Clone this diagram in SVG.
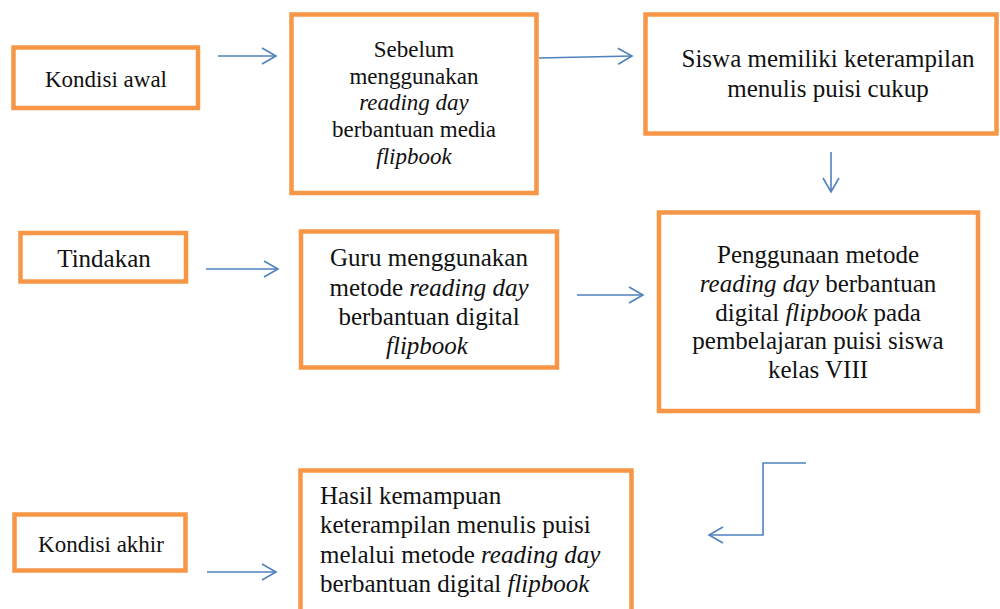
<svg xmlns="http://www.w3.org/2000/svg" width="1000" height="609" viewBox="0 0 1000 609">
<style>
.box{fill:#ffffff;stroke:#F79646;stroke-width:4.5}
.t{font-family:'Liberation Serif','Tinos','DejaVu Serif','Noto Serif',serif;fill:#111111}
.c{text-anchor:middle}
.i{font-style:italic}
.con{fill:none;stroke:#4F81BD;stroke-width:1.6}
</style>
<defs>
<marker id="ah" markerUnits="userSpaceOnUse" viewBox="-15 -10 17 20" refX="0" refY="0" markerWidth="17" markerHeight="20" orient="auto" overflow="visible">
<path d="M-14,-8 L0,0 L-14,8" fill="none" stroke="#4F81BD" stroke-width="1.6"/>
</marker>
</defs>
<rect width="1000" height="609" fill="#ffffff"/>
<g id="connectors">
<line class="con" x1="218" y1="56" x2="276" y2="56" marker-end="url(#ah)"/>
<line class="con" x1="539" y1="58" x2="632" y2="56" marker-end="url(#ah)"/>
<line class="con" x1="831" y1="152" x2="831" y2="192" marker-end="url(#ah)"/>
<line class="con" x1="206" y1="269" x2="278" y2="269" marker-end="url(#ah)"/>
<line class="con" x1="577" y1="295" x2="643" y2="295" marker-end="url(#ah)"/>
<line class="con" x1="207" y1="572" x2="276" y2="572" marker-end="url(#ah)"/>
<polyline class="con" points="806,463 763,463 763,535 709,535" marker-end="url(#ah)"/>
</g>
<g id="kondisi-awal">
<rect class="box" x="13.5" y="47.5" width="184.5" height="60.5"/>
<text class="t c" x="106" y="87" font-size="23">Kondisi awal</text>
</g>
<g id="sebelum">
<rect class="box" x="291.5" y="14.5" width="245" height="178.5"/>
<text class="t c" x="414" y="57" font-size="23">Sebelum</text>
<text class="t c" x="414" y="84" font-size="23">menggunakan</text>
<text class="t c i" x="414" y="110" font-size="23">reading day</text>
<text class="t c" x="414" y="137" font-size="23">berbantuan media</text>
<text class="t c i" x="414" y="164" font-size="23">flipbook</text>
</g>
<g id="siswa-memiliki">
<rect class="box" x="645.5" y="14.5" width="351" height="119"/>
<text class="t c" x="828" y="67" font-size="25">Siswa memiliki keterampilan</text>
<text class="t c" x="828" y="97" font-size="25">menulis puisi cukup</text>
</g>
<g id="tindakan">
<rect class="box" x="20.5" y="233" width="165.5" height="48.5"/>
<text class="t c" x="104" y="267" font-size="25">Tindakan</text>
</g>
<g id="guru">
<rect class="box" x="301" y="231.5" width="256" height="136"/>
<text class="t c" x="429" y="266" font-size="25">Guru menggunakan</text>
<text class="t c" x="429" y="296" font-size="25">metode <tspan class="i">reading day</tspan></text>
<text class="t c" x="429" y="325" font-size="25">berbantuan digital</text>
<text class="t c i" x="427" y="354" font-size="25">flipbook</text>
</g>
<g id="penggunaan">
<rect class="box" x="659" y="212.5" width="319" height="198.5"/>
<text class="t c" x="818" y="263" font-size="25">Penggunaan metode</text>
<text class="t c" x="818" y="292" font-size="25"><tspan class="i">reading day</tspan> berbantuan</text>
<text class="t c" x="818" y="321" font-size="25">digital <tspan class="i">flipbook</tspan> pada</text>
<text class="t c" x="818" y="349" font-size="25">pembelajaran puisi siswa</text>
<text class="t c" x="818" y="378" font-size="25">kelas VIII</text>
</g>
<g id="kondisi-akhir">
<rect class="box" x="14.5" y="514.5" width="171" height="56"/>
<text class="t c" x="101" y="552" font-size="23">Kondisi akhir</text>
</g>
<g id="hasil">
<rect class="box" x="300.5" y="470.5" width="331" height="160"/>
<text class="t" x="320" y="504" font-size="25">Hasil kemampuan</text>
<text class="t" x="320" y="533" font-size="25">keterampilan menulis puisi</text>
<text class="t" x="320" y="563" font-size="25">melalui metode <tspan class="i">reading day</tspan></text>
<text class="t" x="320" y="592" font-size="25">berbantuan digital <tspan class="i">flipbook</tspan></text>
</g>
</svg>
